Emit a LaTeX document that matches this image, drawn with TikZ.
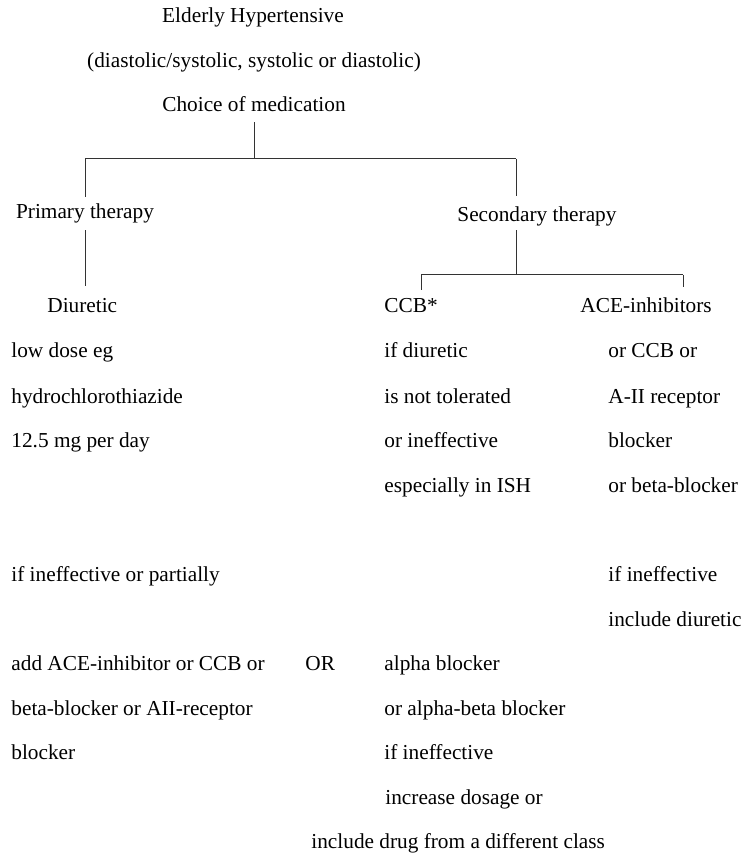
\documentclass[tikz,border=0pt]{standalone}
\usepackage{fontspec}
\setmainfont{Liberation Serif}
\begin{document}
\begin{tikzpicture}[x=0.5pt, y=-0.5pt, txt/.style={anchor=west, inner sep=0pt, text height=8.3pt, text depth=1.3pt, font=\fontsize{10.65}{13}\selectfont}, ln/.style={line width=0.5pt, black!80}]
            \useasboundingbox (0,0) rectangle (749,854);
            \node[txt, anchor=center] (1) at (253,16) {Elderly Hypertensive}; \node[txt, anchor=center] (2) at (254,61) {(diastolic/systolic, systolic or diastolic)}; \node[txt, anchor=center] (3) at (254,105) {Choice of medication};
            \node[txt, anchor=center] (4) at (85,212) {Primary therapy}; \node[txt] (5) at (457,215) {Secondary therapy};
            \node[txt] (6) at (47,306) {Diuretic}; \node[txt] (7) at (384,306) {CCB*}; \node[txt] (8) at (580,306) {ACE-inhibitors};
            \node[txt] (9) at (11,351) {low dose eg}; \node[txt] (10) at (11,396) {hydrochlorothiazide}; \node[txt] (11) at (11,440) {12.5 mg per day};
            \node[txt] (12) at (384,351) {if diuretic}; \node[txt] (13) at (384,396) {is not tolerated}; \node[txt] (14) at (384,440) {or ineffective}; \node[txt] (15) at (384,485) {especially in ISH};
            \node[txt] (16) at (608,351) {or CCB or}; \node[txt] (17) at (608,396) {A-II receptor}; \node[txt] (18) at (608,440) {blocker}; \node[txt] (19) at (608,485) {or beta-blocker};
            \node[txt] (20) at (11,574) {if ineffective or partially}; \node[txt] (21) at (608,574) {if ineffective}; \node[txt] (22) at (608,619) {include diuretic};
            \node[txt] (23) at (11,663) {add ACE-inhibitor or CCB or}; \node[txt] (24) at (305,663) {OR}; \node[txt] (25) at (384,663) {alpha blocker};
            \node[txt] (26) at (11,708) {beta-blocker or AII-receptor}; \node[txt] (27) at (384,708) {or alpha-beta blocker};
            \node[txt] (28) at (11,752) {blocker}; \node[txt] (29) at (384,752) {if ineffective};
            \node[txt] (30) at (385,797) {increase dosage or}; \node[txt] (31) at (311,841) {include drug from a different class};
            \coordinate (j0) at (254,159); \coordinate (j1) at (85,159); \coordinate (j2) at (516,159); \coordinate (j3) at (516,275); \coordinate (j4) at (421,275); \coordinate (j5) at (683,275);
            \draw[ln, shorten <=3.7pt] (3) -- (j0);
            \draw[ln] (j1) -- (j2);
            \draw[ln, shorten >=2.7pt] (j1) -- (4);
            \draw[ln, shorten >=4.7pt] (j2) -- (j2 |- 5.north);
            \draw[ln, shorten <=4.2pt, shorten >=5.2pt] (4) -- (4 |- 6.north);
            \draw[ln, shorten <=2.7pt] (j2 |- 5.south) -- (j3);
            \draw[ln] (j4) -- (j5);
            \draw[ln, shorten >=3.2pt] (j4) -- (j4 |- 7.north); \draw[ln, shorten >=4.7pt] (j5) -- (j5 |- 8.north);% branch ends
        \end{tikzpicture}
\end{document}
